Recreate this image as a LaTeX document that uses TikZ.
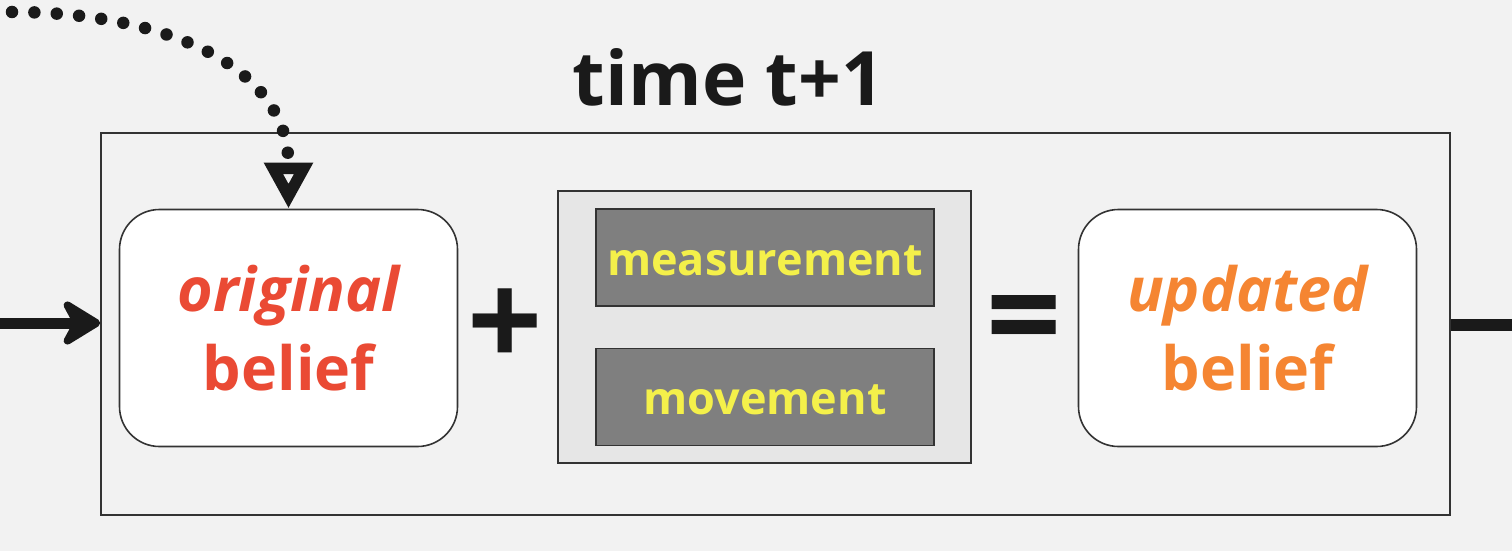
\documentclass[tikz,border=0pt]{standalone}
\usepackage{fontspec}
\setmainfont{Open Sans}
\usetikzlibrary{arrows.meta,positioning}
\definecolor{bgc}{HTML}{F2F2F2}
\definecolor{ink}{HTML}{333333}
\definecolor{titlec}{HTML}{1A1A1A}
\definecolor{redt}{HTML}{EA4A34}
\definecolor{oranget}{HTML}{F58532}
\definecolor{yellowt}{HTML}{F4F04A}
\definecolor{grayfill}{HTML}{7F7F7F}
\definecolor{panelfill}{HTML}{E6E6E6}
\tikzset{
  frame/.style={draw=ink, line width=1.6pt, rectangle, inner sep=0pt},
  beliefbox/.style={draw=ink, line width=1.6pt, fill=white, rounded corners=40pt,
     minimum width=338pt, minimum height=237pt, align=center, inner sep=0pt,
     font=\fontsize{61}{81}\selectfont\bfseries},
  panel/.style={draw=ink, line width=1.6pt, fill=panelfill, minimum width=413pt, minimum height=272pt, inner sep=0pt},
  inputbox/.style={draw=ink, line width=1.6pt, fill=grayfill, minimum width=338pt, minimum height=97pt, inner sep=0pt},
  inputtext/.style={text=yellowt, font=\fontsize{45}{50}\selectfont\bfseries, inner sep=0pt},
  opsym/.style={text=titlec, inner sep=0pt, font=\fontsize{132}{132}\selectfont\bfseries},
  flow/.style={draw=titlec, line width=11pt},
  dotflow/.style={draw=titlec, line width=12.5pt, line cap=round, dash pattern=on 0pt off 22.4pt}
}
\begin{document}
\begin{tikzpicture}[x=1pt,y=-1pt]
\useasboundingbox[fill=bgc] (0,0) rectangle (1512,551);
\node[frame, minimum width=1349pt, minimum height=382pt] (fr) at (775.5,324) {};
\node[text=titlec, font=\fontsize{75}{75}\selectfont\bfseries, anchor=base] (title) at (728.5,105) {time t+1};
\node[beliefbox] (ob) at (288.5,328) {\textcolor{redt}{\itshape original}\\[-2pt]\textcolor{redt}{belief}};
\node[panel] (pn) at (764.5,327) {};
\node[inputbox] (meas) at (765,257.5) {};
\node[inputtext, anchor=base] (meastext) at (765,275) {measurement};
\node[inputbox] (move) at (765,397) {};
\node[inputtext, anchor=base] (movetext) at (765,414) {movement};
\node[beliefbox] (ub) at (1247.5,328) {\textcolor{oranget}{\itshape updated}\\[-2pt]\textcolor{oranget}{belief}};
\node[opsym] (plus) at (505.5,328) {+};
\node[opsym] (eq) at (1024.5,328) {=};
\coordinate (inL) at (0,323);
\coordinate (outR) at (1512,325);
\coordinate (dotStart) at (12,12);
\draw[flow, -{Stealth[length=46pt, width=56pt, inset=15pt, round]}] (inL) -- (fr.west |- inL);
\draw[flow, line width=12pt] (fr.east |- outR) -- (outR);
\draw[dotflow, -{Triangle[open, length=46pt, width=46pt, line width=22pt, sep=0pt]}] (dotStart) to[out=0, in=90, looseness=1.1] (ob.north);
\end{tikzpicture}
\end{document}
